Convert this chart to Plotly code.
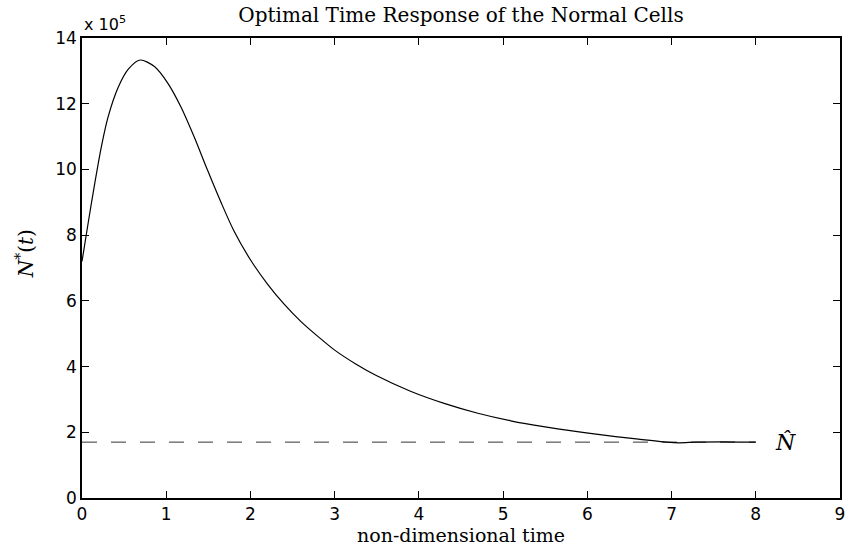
import plotly.graph_objects as go

# Data (N values in units of 1e5)
SCALE_LABEL = "x 10<sup>5</sup>"
t_vals = [0, 0.075, 0.153, 0.232, 0.31, 0.43, 0.55, 0.69, 0.86, 1.02, 1.175, 1.33,
          1.49, 1.65, 1.80, 2.0, 2.2, 2.4, 2.6, 2.8, 3.0, 3.25, 3.5, 3.9,
          4.30, 4.70, 5.09, 5.48, 5.88, 6.15, 6.5, 6.94, 7.09, 7.29, 7.6, 8.0]
n_vals = [7.2, 8.4, 9.6, 10.72, 11.6, 12.5, 13.05, 13.33, 13.13, 12.62, 11.9, 11.0,
          9.98, 9.0, 8.15, 7.25, 6.52, 5.9, 5.37, 4.92, 4.5, 4.08, 3.72, 3.25,
          2.88, 2.58, 2.35, 2.17, 2.02, 1.93, 1.82, 1.70, 1.68, 1.70, 1.71, 1.70]
n_hat = 1.7
hat_t = [0, 8]
x_ticks = list(range(0, 10))
y_ticks = list(range(0, 16, 2))

fig = go.Figure()
fig.add_trace(go.Scatter(x=hat_t, y=[n_hat, n_hat], mode="lines",
                         line=dict(color="#333333", width=1, dash="15px,14px"),
                         showlegend=False, hoverinfo="skip"))
fig.add_trace(go.Scatter(x=t_vals, y=n_vals, mode="lines",
                         line=dict(color="black", width=1.2, shape="spline", smoothing=0.8),
                         showlegend=False))

axis_common = dict(showgrid=False, zeroline=False, showline=True, linecolor="black",
                   linewidth=1.5, mirror="ticks", ticks="inside", ticklen=7,
                   tickwidth=1, tickcolor="black",
                   tickfont=dict(family="DejaVu Sans", size=17, color="black"))

fig.update_layout(
    width=853, height=548,
    margin=dict(l=82, r=8, t=38, b=50),
    plot_bgcolor="white", paper_bgcolor="white",
    xaxis=dict(range=[0, 9], tickvals=x_ticks, **axis_common),
    yaxis=dict(range=[0, 14], tickvals=y_ticks, **axis_common),
    title=dict(text="Optimal Time Response of the Normal Cells",
               font=dict(family="DejaVu Serif", size=20, color="black"),
               x=0.5, xref="paper", xanchor="center", y=1 - 15/548, yanchor="middle"),
    annotations=[
        dict(text="non-dimensional time", xref="paper", yref="paper", x=0.5, y=-0.08,
             xanchor="center", yanchor="middle", showarrow=False,
             font=dict(family="DejaVu Serif", size=19, color="black")),
        dict(text="<i>N</i><sup>*</sup>(<i>t</i>)", xref="paper", yref="paper",
             x=-0.075, y=0.53, xanchor="center", yanchor="middle", showarrow=False,
             textangle=-90, font=dict(family="DejaVu Serif", size=20, color="black")),
        dict(text=SCALE_LABEL, xref="paper", yref="paper", x=0, y=1.0, xanchor="left",
             yanchor="bottom", yshift=2, showarrow=False,
             font=dict(family="DejaVu Sans", size=16, color="black")),
        dict(text="<i>N\u0302</i>", xref="x", yref="y", x=8.35, y=n_hat,
             xanchor="center", yanchor="middle", showarrow=False,
             font=dict(family="DejaVu Serif", size=22, color="black")),
    ],
)

fig.write_html("out.html")
